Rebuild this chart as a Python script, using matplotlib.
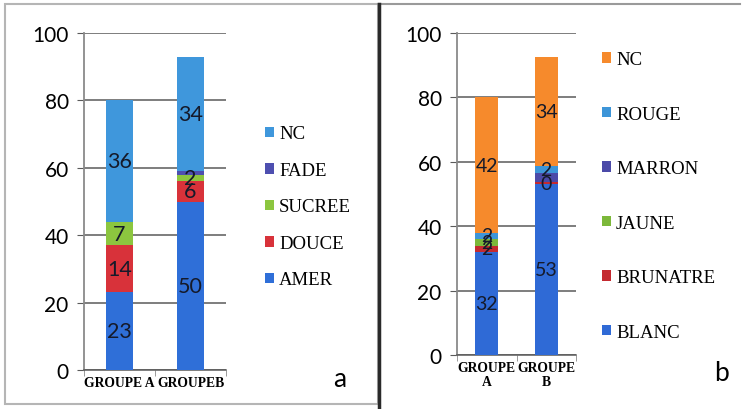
import matplotlib
matplotlib.use('Agg')
import numpy as np
from matplotlib import pyplot as plt
from matplotlib.patches import Rectangle
from matplotlib.lines import Line2D

# panel a : saveur
groups_a = ['GROUPE A', 'GROUPEB']
series_a = ['AMER', 'DOUCE', 'SUCREE', 'FADE', 'NC']
values_a = {
    'AMER': [23, 50],
    'DOUCE': [14, 6],
    'SUCREE': [7, 2],
    'FADE': [0, 1],
    'NC': [36, 34],
}
labels_a = {
    'AMER': ['23', '50'],
    'DOUCE': ['14', '6'],
    'SUCREE': ['7', '2'],
    'FADE': ['', ''],
    'NC': ['36', '34'],
}
colors_a = ['#2f6fd8', '#d8323a', '#8cc63f', '#4e4fb0', '#3f97dc']

# panel b : couleur
groups_b = ['GROUPE\nA', 'GROUPE\nB']
series_b = ['BLANC', 'BRUNATRE', 'JAUNE', 'MARRON', 'ROUGE', 'NC']
values_b = {
    'BLANC': [32, 53],
    'BRUNATRE': [2, 0.6],
    'JAUNE': [2, 0],
    'MARRON': [0, 3],
    'ROUGE': [2, 2],
    'NC': [42, 34],
}
labels_b = {
    'BLANC': ['32', '53'],
    'BRUNATRE': ['2', '0'],
    'JAUNE': ['2', ''],
    'MARRON': ['', ''],
    'ROUGE': ['2', '2'],
    'NC': ['42', '34'],
}
colors_b = ['#2f6ad6', '#c42a30', '#7cb83a', '#4b4aa8', '#3d95d8', '#f68a2c']

W, H = 742, 410
fig = plt.figure(figsize=(W / 100, H / 100), dpi=100)


def px(x0, y_top, x1, y_bot):
    return [x0 / W, 1 - y_bot / H, (x1 - x0) / W, (y_bot - y_top) / H]


def stacked(ax, groups, series, values, labels, colors, width, lab_size):
    x_pos = np.arange(len(groups))
    bottom = np.zeros(len(groups))
    for name, col in zip(series, colors):
        v = np.array(values[name], dtype=float)
        bars = ax.bar(x_pos, v, width, bottom=bottom, color=col, label=name, zorder=3)
        ax.bar_label(bars, labels=labels[name], label_type='center', fontsize=lab_size,
                     family='Lato', color='#151a2a', zorder=4)
        bottom += v
    ax.set_xlim(-0.5, 1.5)
    ax.set_ylim(0, 100)
    ax.set_yticks(np.arange(0, 101, 20))
    ax.yaxis.grid(True, color='#5a5a5a', linewidth=1.1, zorder=0)
    ax.set_xticks(x_pos)
    ax.set_xticklabels(groups, family='Liberation Serif', fontweight='bold', fontsize=9.8,
                       linespacing=1.15)
    ax.set_xticks([-0.5, 0.5, 1.5], minor=True)
    ax.tick_params(axis='x', which='major', length=0, pad=4)
    ax.tick_params(axis='x', which='minor', length=4, color='#8a8a8a')
    ax.tick_params(axis='y', length=5, color='#5a5a5a', labelsize=15, pad=6)
    for t in ax.get_yticklabels():
        t.set_family('Lato')
    for s in ['top', 'right']:
        ax.spines[s].set_visible(False)
    ax.spines['left'].set_color('#8a8a8a')
    ax.spines['left'].set_linewidth(1.3)
    ax.spines['bottom'].set_color('#5a5a5a')
    ax.spines['bottom'].set_linewidth(1.1)


ax1 = fig.add_axes(px(84, 34, 226, 371))
stacked(ax1, groups_a, series_a, values_a, labels_a, colors_a, 0.39, 15.5)

ax2 = fig.add_axes(px(457, 34, 576, 356))
stacked(ax2, groups_b, series_b, values_b, labels_b, colors_b, 0.38, 14)

for ax, anchor, spacing in [(ax1, (265 / W, 1 - 208 / H), 1.04), (ax2, (602 / W, 1 - 197 / H), 2.0)]:
    h, l = ax.get_legend_handles_labels()
    fig.legend(h[::-1], l[::-1], loc='center left', bbox_to_anchor=anchor, frameon=False,
               prop={'family': 'Liberation Serif', 'size': 13.5}, labelspacing=spacing,
               handlelength=0.5, handleheight=0.5, handletextpad=0.25, borderpad=0,
               borderaxespad=0)

fig.text(340 / W, 1 - 380 / H, 'a', family='Lato', fontsize=19, ha='center', va='center')
fig.text(722 / W, 1 - 374 / H, 'b', family='Lato', fontsize=19, ha='center', va='center')

# panel frames
fig.patches.append(Rectangle((5 / W, 5 / H), 373 / W, 400 / H, transform=fig.transFigure,
                             fill=False, edgecolor='#b5b5b5', linewidth=1.5))
fig.lines.append(Line2D([378 / W, 740 / W], [1 - 5 / H, 1 - 5 / H], transform=fig.transFigure,
                        color='#9a9a9a', linewidth=1.5))
fig.lines.append(Line2D([379 / W, 379 / W], [2 / H, 1 - 5 / H], transform=fig.transFigure,
                        color='#2a2a2a', linewidth=2.5))

plt.savefig('out.png', dpi=100)
plt.close()
